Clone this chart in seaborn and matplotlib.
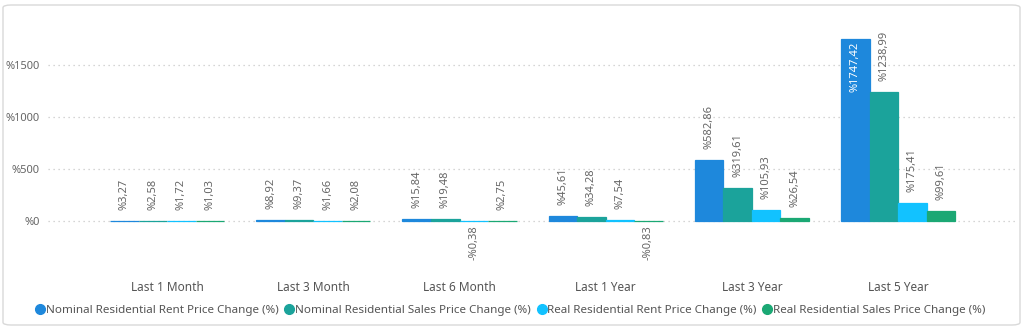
import matplotlib
matplotlib.use("Agg")
import matplotlib.pyplot as plt
from matplotlib.patches import FancyBboxPatch
from matplotlib.lines import Line2D
import seaborn as sns
import pandas as pd

categories = ["Last 1 Month", "Last 3 Month", "Last 6 Month", "Last 1 Year", "Last 3 Year", "Last 5 Year"]
series_names = [
    "Nominal Residential Rent Price Change (%)",
    "Nominal Residential Sales Price Change (%)",
    "Real Residential Rent Price Change (%)",
    "Real Residential Sales Price Change (%)",
]
nominal_rent = [3.27, 8.92, 15.84, 45.61, 582.86, 1747.42]
nominal_sales = [2.58, 9.37, 19.48, 34.28, 319.61, 1238.99]
real_rent = [1.72, 1.66, -0.38, 7.54, 105.93, 175.41]
real_sales = [1.03, 2.08, 2.75, -0.83, 26.54, 99.61]
colors = ["#1E88DC", "#1BA39B", "#12C2FF", "#1BA874"]
yticks = [0, 500, 1000, 1500]

values = [nominal_rent, nominal_sales, real_rent, real_sales]
rows = []
for name, vals in zip(series_names, values):
    for c, v in zip(categories, vals):
        rows.append({"category": c, "series": name, "value": v})
df = pd.DataFrame(rows)

sns.set_theme(style="white")
plt.rcParams["font.family"] = ["Noto Sans", "DejaVu Sans"]

fig = plt.figure(figsize=(10.24, 3.3), dpi=100)
# card border
card = FancyBboxPatch((3 / 1024, 5 / 330), 1017 / 1024, 320 / 330,
                      boxstyle="round,pad=0,rounding_size=0.008",
                      transform=fig.transFigure, facecolor="none",
                      edgecolor="#D9D9D9", linewidth=1.0, zorder=-10)
fig.patches.append(card)

left, right, top_px, bot_px = 48, 1015, 25, 242
ax = fig.add_axes([left / 1024, 1 - bot_px / 330, (right - left) / 1024, (bot_px - top_px) / 330])
ax.set_facecolor("none")

sns.barplot(data=df, x="category", y="value", hue="series", order=categories,
            hue_order=series_names, palette=colors, width=0.78, ax=ax,
            linewidth=0, legend=False, saturation=1)
for cont, col in zip(ax.containers, colors):
    for bar in cont:
        bar.set_edgecolor(col)
        bar.set_linewidth(0.9)

px = 500 / 52.0
ax.set_ylim(-(bot_px - 221) * px, (221 - top_px) * px)
ax.set_xlim(-0.815, 5.8)

for y in yticks:
    ax.axhline(y, color="#C8C8C8", linestyle=(0, (1, 3)), linewidth=0.9, zorder=0)
ax.set_yticks(yticks)
ax.set_yticklabels([f"%{v}" for v in yticks], color="#666666", fontsize=8)
ax.tick_params(axis="y", length=0, pad=6)
ax.tick_params(axis="x", length=0, pad=28)
for lbl in ax.get_xticklabels():
    lbl.set_color("#555555")
    lbl.set_fontsize(8.5)
ax.set_xlabel("")
ax.set_ylabel("")
for s in ax.spines.values():
    s.set_visible(False)

def fmt(v):
    s = f"{abs(v):.2f}".replace(".", ",")
    return ("-%" if v < 0 else "%") + s

for cont, vals in zip(ax.containers, values):
    for bar, v in zip(cont, vals):
        xc = bar.get_x() + bar.get_width() / 2
        if v >= 1500:
            ax.annotate(fmt(v), (xc, v), xytext=(0, -2), textcoords="offset points",
                        rotation=90, ha="center", va="top", fontsize=8, color="white",
                        annotation_clip=False)
        elif v >= 0:
            ax.annotate(fmt(v), (xc, v), xytext=(0, 8), textcoords="offset points",
                        rotation=90, ha="center", va="bottom", fontsize=8, color="#666666",
                        annotation_clip=False)
        else:
            ax.annotate(fmt(v), (xc, v), xytext=(0, -3), textcoords="offset points",
                        rotation=90, ha="center", va="top", fontsize=8, color="#666666",
                        annotation_clip=False)

handles = [Line2D([0], [0], marker="o", linestyle="none", markersize=7,
                  markerfacecolor=c, markeredgecolor=c) for c in colors]
fig.legend(handles, series_names, loc="center", bbox_to_anchor=(510 / 1024, 1 - 310 / 330),
           ncol=4, frameon=False, fontsize=8.4, labelcolor="#555555",
           handletextpad=0.0, columnspacing=0.4, handlelength=1.0, borderaxespad=0)

fig.savefig("out.png", dpi=100, facecolor="white")
